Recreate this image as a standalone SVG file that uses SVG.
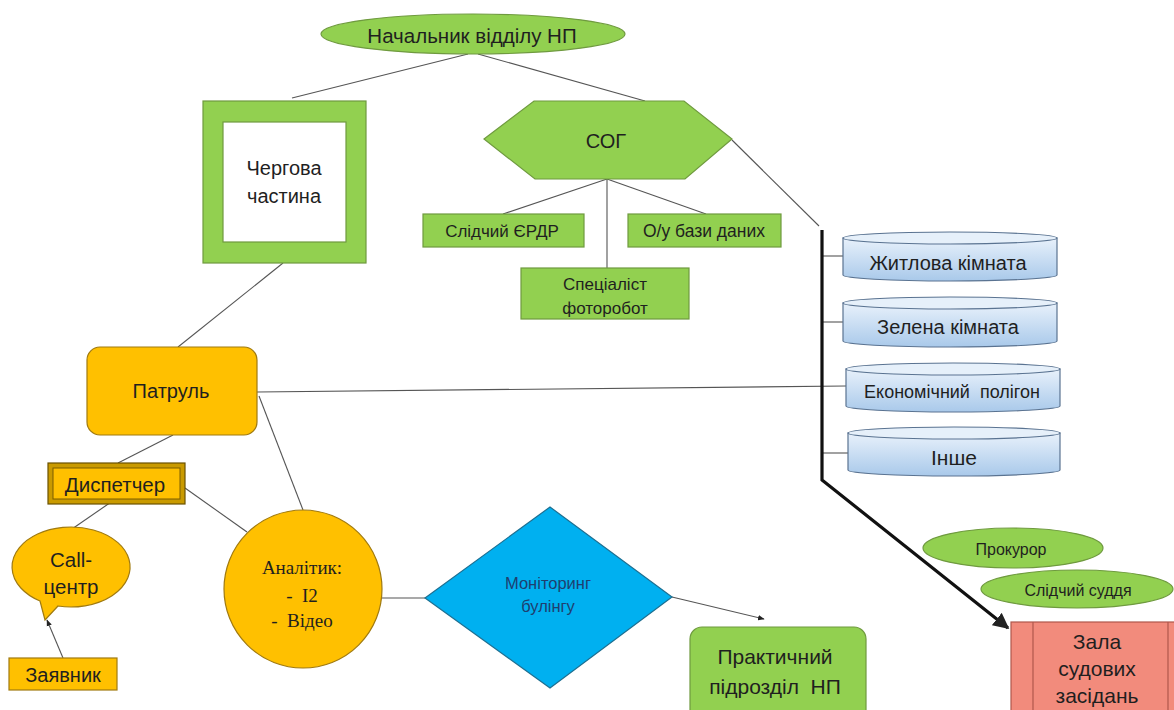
<svg xmlns="http://www.w3.org/2000/svg" width="1174" height="710" viewBox="0 0 1174 710">
<defs>
<style>
text{font-family:"Liberation Sans",Arial,sans-serif;fill:#1f1f1f;text-anchor:middle;dominant-baseline:central;white-space:pre}
.g{fill:#92D050;stroke:#6f9a3f;stroke-width:1.2}
.o{fill:#FFC000;stroke:#a07a10;stroke-width:1.2}
.cyl{fill:url(#cg);stroke:#5a7391;stroke-width:1.2}
.cyt{fill:#e6f0fa;stroke:#5a7391;stroke-width:1.2}
.ln{stroke:#555;stroke-width:1.1;fill:none}
.tm{font-family:"Liberation Serif","Times New Roman",serif}
</style>
<linearGradient id="cg" x1="0" y1="0" x2="0" y2="1">
<stop offset="0" stop-color="#e8f1fb"/>
<stop offset="1" stop-color="#a9c9ea"/>
</linearGradient>
<marker id="ah" viewBox="0 0 10 10" refX="9" refY="5" markerWidth="5" markerHeight="5" orient="auto">
<path d="M0,0 L10,5 L0,10 Z" fill="#222"/>
</marker>
<marker id="ahs" viewBox="0 0 10 10" refX="9" refY="5" markerWidth="6" markerHeight="6" orient="auto">
<path d="M0,1 L10,5 L0,9 Z" fill="#222"/>
</marker>
</defs>
<rect width="1174" height="710" fill="#fff"/>

<g id="connectors">
<line class="ln" x1="468" y1="54" x2="292" y2="98"/>
<line class="ln" x1="478" y1="54" x2="645" y2="101"/>
<line class="ln" x1="607" y1="179" x2="503" y2="214"/>
<line class="ln" x1="607" y1="179" x2="607" y2="268"/>
<line class="ln" x1="607" y1="179" x2="706" y2="214"/>
<line class="ln" x1="732" y1="140" x2="819" y2="226"/>
<line class="ln" x1="283" y1="263" x2="178" y2="347"/>
<line class="ln" x1="257" y1="392" x2="846" y2="386"/>
<line class="ln" x1="822" y1="256" x2="843" y2="256"/>
<line class="ln" x1="822" y1="322" x2="843" y2="322"/>
<line class="ln" x1="822" y1="453" x2="848" y2="453"/>
<path d="M822,230 L822,480 L1008,628" fill="none" stroke="#111" stroke-width="3.2" marker-end="url(#ah)"/>
<line class="ln" x1="173" y1="435" x2="118" y2="463"/>
<line class="ln" x1="259" y1="396" x2="303" y2="510"/>
<line class="ln" x1="185" y1="488" x2="247" y2="532"/>
<line class="ln" x1="114" y1="500" x2="72" y2="529"/>
<line class="ln" x1="63" y1="658" x2="47" y2="620" marker-end="url(#ahs)"/>
<line class="ln" x1="372" y1="598" x2="425" y2="598"/>
<line class="ln" x1="672" y1="597" x2="764" y2="619" marker-end="url(#ahs)"/>
</g>

<g id="nachalnyk">
<ellipse class="g" cx="473" cy="34" rx="152" ry="20"/>
<text x="472" y="35" font-size="20.5">Начальник відділу НП</text>
</g>

<g id="chergova">
<rect x="203" y="101" width="163" height="162" fill="#92D050" stroke="#6f9a3f" stroke-width="1.2"/>
<rect x="223" y="122" width="123" height="120" fill="#fff" stroke="#6f9a3f" stroke-width="1.2"/>
<text x="284" y="168" font-size="20">Чергова</text>
<text x="284" y="196" font-size="20">частина</text>
</g>

<g id="sog">
<polygon class="g" points="484,139 534,101 684,101 732,139 685,179 535,179"/>
<text x="606" y="141" font-size="20">СОГ</text>
</g>

<g id="slidchyi-erdr">
<rect class="g" x="423" y="214" width="161" height="33"/>
<text x="502" y="231" font-size="17">Слідчий ЄРДР</text>
</g>

<g id="ou-bazy">
<rect class="g" x="628" y="214" width="153" height="33"/>
<text x="704" y="231" font-size="17.5">О/у бази даних</text>
</g>

<g id="specialist">
<rect class="g" x="521" y="268" width="168" height="51"/>
<text x="605" y="284" font-size="17">Спеціаліст</text>
<text x="605" y="308" font-size="17">фоторобот</text>
</g>

<g id="zhytlova">
<path class="cyl" d="M843,238 L843,275 A107,6 0 0 0 1057,275 L1057,238 Z"/>
<ellipse class="cyt" cx="950" cy="238" rx="107" ry="6"/>
<text x="948" y="263" font-size="20">Житлова кімната</text>
</g>

<g id="zelena">
<path class="cyl" d="M843,303 L843,341 A107,6 0 0 0 1057,341 L1057,303 Z"/>
<ellipse class="cyt" cx="950" cy="303" rx="107" ry="6"/>
<text x="948" y="327" font-size="20">Зелена кімната</text>
</g>

<g id="ekonomichnyi">
<path class="cyl" d="M846,369 L846,406 A107,6 0 0 0 1060,406 L1060,369 Z"/>
<ellipse class="cyt" cx="953" cy="369" rx="107" ry="6"/>
<text x="952" y="392" font-size="18" xml:space="preserve">Економічний  полігон</text>
</g>

<g id="inshe">
<path class="cyl" d="M848,433 L848,470 A106,6 0 0 0 1060,470 L1060,433 Z"/>
<ellipse class="cyt" cx="954" cy="433" rx="106" ry="6"/>
<text x="954" y="457" font-size="21">Інше</text>
</g>

<g id="patrul">
<rect class="o" x="87" y="347" width="170" height="88" rx="13"/>
<text x="171" y="391" font-size="20">Патруль</text>
</g>

<g id="dyspetcher">
<rect x="48" y="463" width="137" height="41" fill="#c99a00" stroke="#6b5200" stroke-width="1.2"/>
<rect x="53" y="468" width="127" height="31" fill="#FFC000" stroke="#7a5d00" stroke-width="1"/>
<text x="115" y="484" font-size="20.5">Диспетчер</text>
</g>

<g id="call-centr">
<path class="o" d="M40,601 L45,620 L58,606 A59,40 0 1 0 40,601 Z"/>
<text x="71" y="559" font-size="20.5">Call-</text>
<text x="71" y="586" font-size="20.5">центр</text>
</g>

<g id="zayavnyk">
<rect class="o" x="9" y="658" width="108" height="32"/>
<text x="63" y="675" font-size="20">Заявник</text>
</g>

<g id="analityk">
<circle class="o" cx="303" cy="589" r="79"/>
<text class="tm" x="302" y="567" font-size="19">Аналітик:</text>
<text class="tm" x="302" y="595" font-size="19" xml:space="preserve">-  І2</text>
<text class="tm" x="302" y="620" font-size="19" xml:space="preserve">-  Відео</text>
</g>

<g id="monitoring">
<polygon points="425,598 550,507 672,597 550,688" fill="#00B0F0" stroke="#1d6f91" stroke-width="1.2"/>
<text x="548" y="583" font-size="16.5" style="fill:#1f3f6f">Моніторинг</text>
<text x="548" y="606" font-size="16.5" style="fill:#1f3f6f">булінгу</text>
</g>

<g id="praktychnyi">
<rect x="690" y="627" width="176" height="100" rx="12" fill="#92D050" stroke="#6f9a3f" stroke-width="1.2"/>
<text x="775" y="656" font-size="21">Практичний</text>
<text x="775" y="686" font-size="21" xml:space="preserve">підрозділ  НП</text>
</g>

<g id="prokuror">
<ellipse class="g" cx="1013" cy="548" rx="90" ry="20"/>
<text x="1011" y="549" font-size="16">Прокурор</text>
</g>

<g id="slidchyi-suddia">
<ellipse class="g" cx="1077" cy="589" rx="96" ry="19"/>
<text x="1078" y="590" font-size="16">Слідчий суддя</text>
</g>

<g id="zala">
<rect x="1011" y="622" width="170" height="100" fill="#F28B7C" stroke="#b0584c" stroke-width="1.2"/>
<line x1="1033" y1="622" x2="1033" y2="710" stroke="#b0584c" stroke-width="1.2"/>
<line x1="1168" y1="622" x2="1168" y2="710" stroke="#b0584c" stroke-width="1.2"/>
<text x="1097" y="641" font-size="21">Зала</text>
<text x="1097" y="668" font-size="21">судових</text>
<text x="1097" y="695" font-size="21">засідань</text>
</g>
</svg>
